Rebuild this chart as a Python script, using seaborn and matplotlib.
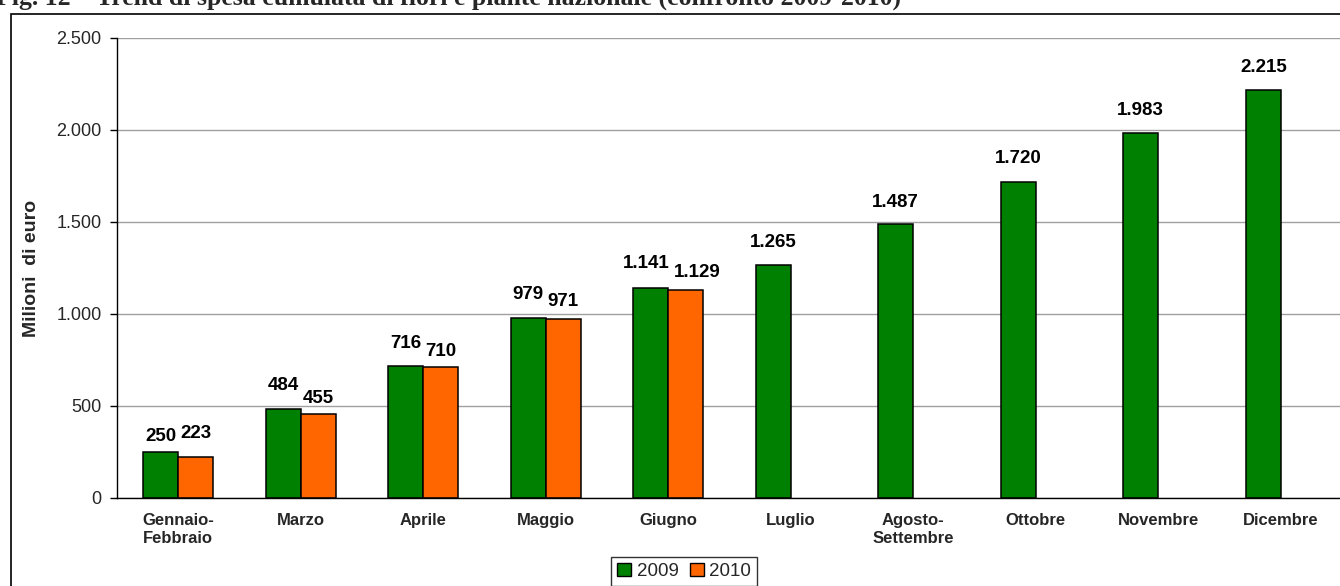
import matplotlib
matplotlib.use("Agg")
import matplotlib.pyplot as plt
import matplotlib.patches as mpatches
import numpy as np
import pandas as pd
import seaborn as sns

# Cumulative spending on flowers and plants (million euro)
months = ["Gennaio-\nFebbraio", "Marzo", "Aprile", "Maggio", "Giugno", "Luglio",
          "Agosto-\nSettembre", "Ottobre", "Novembre", "Dicembre"]
spesa_2009 = [250, 484, 716, 979, 1141, 1265, 1487, 1720, 1983, 2215]
spesa_2010 = [223, 455, 710, 971, 1129, None, None, None, None, None]
years = ["2009", "2010"]
colors = {"2009": "#008000", "2010": "#FF6600"}

rows = []
for m, a, b in zip(months, spesa_2009, spesa_2010):
    rows.append({"mese": m, "anno": "2009", "valore": a})
    rows.append({"mese": m, "anno": "2010", "valore": np.nan if b is None else b})
df = pd.DataFrame(rows)

sns.set_style("white")
plt.rcParams["font.family"] = ["Liberation Sans", "DejaVu Sans"]

W, H = 1340, 586
fig = plt.figure(figsize=(W / 100, H / 100), dpi=100)
ax = fig.add_axes([117 / W, 1 - 498 / H, 1225 / W, 460 / H])

sns.barplot(data=df, x="mese", y="valore", hue="anno", order=months,
            hue_order=years, palette=colors, width=0.57, gap=0,
            edgecolor="black", linewidth=1.1, saturation=1, ax=ax,
            legend=False)

def fmt_it(v):
    return f"{v:,.0f}".replace(",", ".")

# Label placement tweaks (points): default lift per series, plus a few
# hand-nudged labels so neighbours do not collide
default_pad = {"2009": 10.5, "2010": 5.5}
nudges = {("2009", 0): (0, 5), ("2010", 0): (0, 10.5), ("2010", 2): (0, 5),
          ("2010", 3): (0, 7), ("2009", 4): (-3.5, 11.5), ("2010", 4): (8.5, 6.5),
          ("2009", 6): (0, 9.5)}

for year, cont in zip(years, ax.containers):
    texts = ax.bar_label(cont, fmt=fmt_it, padding=default_pad[year],
                         fontsize=13.5, fontweight="bold", color="black")
    for i, t in enumerate(texts):
        if (year, i) in nudges:
            t.xyann = nudges[(year, i)]

ax.set_xlim(-0.5, 9.5)
ax.set_ylim(0, 2500)
ax.set_yticks(np.arange(0, 2501, 500))
ax.set_yticklabels([fmt_it(v) for v in np.arange(0, 2501, 500)], fontsize=13)
ax.yaxis.grid(True, color="#a0a0a0", linewidth=1)
ax.set_axisbelow(True)

ax.set_xticks(range(len(months)))
ax.set_xticklabels(months, fontsize=12, fontweight="bold", linespacing=1.25)
ax.set_xticks(np.arange(-0.5, 10, 1), minor=True)
ax.tick_params(axis="x", which="major", length=0, pad=11)
ax.tick_params(axis="x", which="minor", length=5, width=1, color="black",
               direction="out")
ax.tick_params(axis="y", length=5, width=1, color="black", direction="out",
               left=True, pad=6)

for s in ["top", "right"]:
    ax.spines[s].set_visible(False)
for s in ["left", "bottom"]:
    ax.spines[s].set_color("black")
    ax.spines[s].set_linewidth(1)

ax.set_xlabel("")
ax.set_ylabel("Milioni  di euro", fontsize=14, fontweight="bold", labelpad=12)

handles = [mpatches.Patch(facecolor=colors[y], edgecolor="black", label=y)
           for y in years]
fig.legend(handles=handles, loc="upper center", ncol=2,
           bbox_to_anchor=(684 / W, 1 - 557 / H), borderaxespad=0,
           frameon=True, fancybox=False, edgecolor="black", fontsize=13.5,
           handlelength=0.75, handleheight=0.75, handletextpad=0.3,
           columnspacing=0.6, borderpad=0.3)

# Outer chart frame
fig.patches.append(mpatches.Rectangle((11 / W, -0.05), 1.1, 1 - 14 / H + 0.05,
                                      transform=fig.transFigure, fill=False,
                                      edgecolor="black", linewidth=1.2))

fig.text(-4 / W, 1 - 5 / H,
         "Fig. 12 \u2013 Trend di spesa cumulata di fiori e piante nazionale (confronto 2009-2010)",
         family="Liberation Serif", fontweight="bold", fontsize=18.5,
         va="baseline", ha="left")

fig.savefig("out.png", dpi=100)
